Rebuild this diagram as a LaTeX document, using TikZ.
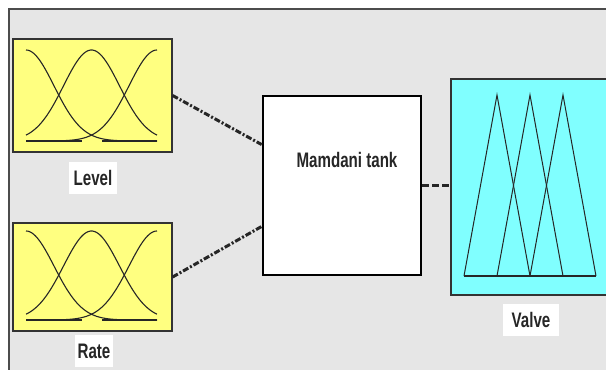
\documentclass[tikz,border=0pt]{standalone}
\usepackage{fontspec}
\setmainfont{Liberation Sans}[FakeStretch=0.72]
\usetikzlibrary{positioning}

\definecolor{panelgray}{HTML}{E6E6E6}
\definecolor{inyellow}{HTML}{FFFF80}
\definecolor{outcyan}{HTML}{80FFFF}

\tikzstyle{inbox} = [rectangle, fill = inyellow, minimum width = 159pt, draw = black!80, line width = 1.2pt, inner sep = 0pt]
\tikzstyle{outbox} = [rectangle, fill = outcyan, minimum width = 170pt, minimum height = 216pt, draw = black!80, line width = 1.2pt, inner sep = 0pt]
\tikzstyle{rulebox} = [rectangle, fill = white, minimum width = 158pt, minimum height = 179pt, draw = black, line width = 2.6pt, inner sep = 0pt]
\tikzstyle{lab} = [fill = white, font = \fontsize{21}{21}\selectfont\bfseries, text = black!85, inner sep = 0pt, minimum height = 32pt]
\tikzstyle{mf} = [line width = 1.1pt, draw = black!85]
\tikzstyle{link} = [line width = 3pt, draw = black!85, dash pattern = on 6pt off 2pt on 2pt off 2pt]
\tikzstyle{link1} = [line width = 3pt, draw = black!85, dash pattern = on 7pt off 3pt]

\begin{document}
\begin{tikzpicture}[x = 1pt, y = -1pt]
        \useasboundingbox (0, 0) rectangle (606, 370);
        \fill[panelgray] (9, 9) rectangle (606, 370);
        \draw[black!70, line width = 1.2pt] (9, 370) -- (9, 9) -- (606, 9);
        \begin{scope}
        \clip (0, 0) rectangle (606, 370);
        \node(level)[inbox, minimum height = 113pt] at (92.5, 95.5) {};
        \node(rate)[inbox, minimum height = 108pt] at (92.5, 277) {};
        \node(mamdani)[rulebox] at (342, 185.5) {};
        \node(valve)[outbox] at (536, 187) {};
        \end{scope}
        \node(level_lab)[lab, minimum width = 48pt] at (93, 178) {Level};
        \node(rate_lab)[lab, minimum width = 38pt] at (94, 351) {Rate};
        \node(valve_lab)[lab, minimum width = 56pt] at (531, 320) {Valve};
        \node(mamdani_lab)[font = \fontsize{21}{21}\selectfont\bfseries, text = black!85] at (347, 160) {Mamdani tank};
        % membership functions
        \foreach \c in {26, 91.5, 157} {
            \draw[mf] plot[domain = 26:157, samples = 70, smooth] (\x, {141 - 91*exp(-0.5*((\x-\c)/28)^2)});
            \draw[mf] plot[domain = 26:157, samples = 70, smooth] (\x, {320 - 89*exp(-0.5*((\x-\c)/28)^2)});
        }
        \draw[mf] (26, 141) -- (82, 141) (102, 141) -- (157, 141);
        \draw[mf] (26, 320) -- (82, 320) (102, 320) -- (157, 320);
        \foreach \p in {497, 530, 563}
            \draw[mf, line width = 1pt] (\p-33, 276) -- (\p, 95) -- (\p+33, 276);
        \draw[mf, line width = 1.4pt] (464, 276) -- (596, 276);
        % connectors
        \draw[link] (level.east) -- (mamdani.153);
        \draw[link] (rate.east) -- (mamdani.207);
        \draw[link1] (mamdani.east) -- (mamdani.east -| valve.west);
    \end{tikzpicture}
\end{document}
